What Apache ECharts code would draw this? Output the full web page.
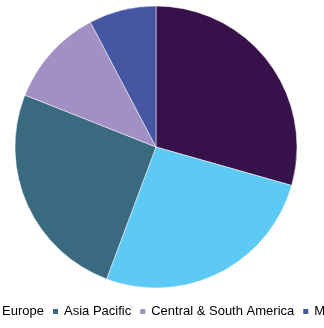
<!DOCTYPE html>
<html><head><meta charset="utf-8">
<script src="https://cdn.jsdelivr.net/npm/echarts@6/dist/echarts.min.js"></script>
<style>html,body{margin:0;padding:0;background:#fff}#c{width:324px;height:328px}</style>
</head><body><div id="c"></div>
<script>
const categories = ["North America", "Europe", "Asia Pacific", "Central & South America", "Middle East & Africa"];
const values = [29.4, 26.3, 25.3, 11.3, 7.7];
const colors = ["#36114A", "#5DCAF6", "#3A6A80", "#A28FC3", "#4756A3"];
const chart = echarts.init(document.getElementById('c'), null, {renderer: 'canvas'});
chart.setOption({
  animation: false,
  color: colors,
  legend: {
    data: categories,
    orient: 'horizontal',
    left: -119,
    top: 300,
    width: 1000,
    itemWidth: 7,
    itemHeight: 7,
    itemGap: 7,
    icon: 'rect',
    textStyle: {fontFamily: 'Liberation Sans', fontSize: 13, color: '#000'}
  },
  series: [{
    type: 'pie',
    center: [156, 147],
    radius: 141,
    startAngle: 90,
    clockwise: true,
    label: {show: false},
    labelLine: {show: false},
    itemStyle: {borderColor: '#fff', borderWidth: 0.5},
    data: categories.map((n, i) => ({name: n, value: values[i]}))
  }]
});
</script></body></html>
